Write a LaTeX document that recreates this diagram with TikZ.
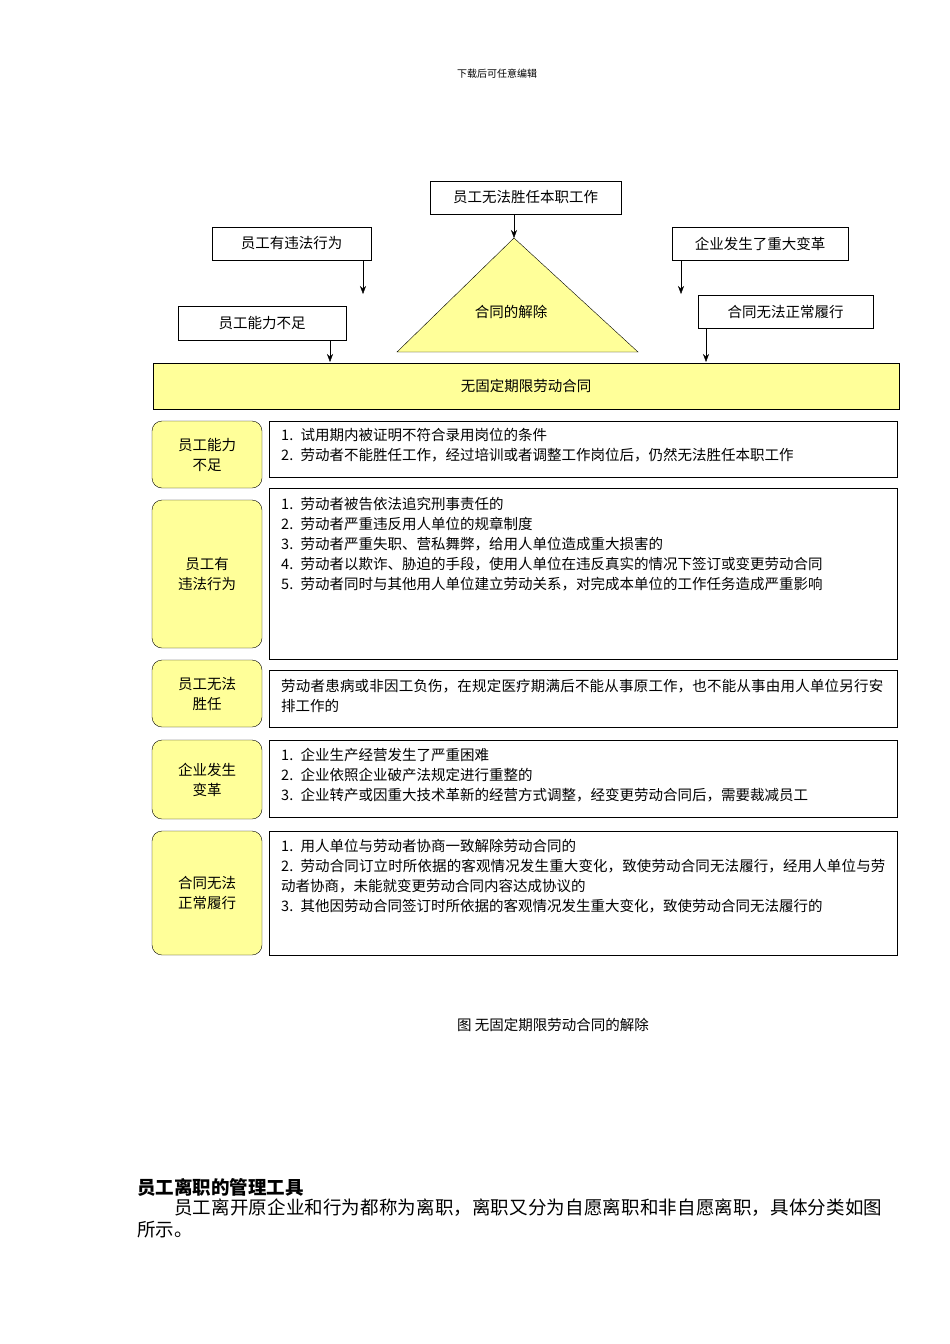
\documentclass[tikz,border=0pt]{standalone}
\usepackage{fontspec}
\setmainfont{Liberation Serif}
\newfontfamily\cjk{Noto Sans CJK SC}
\XeTeXlinebreaklocale "zh"
\XeTeXlinebreakskip=0pt plus 1pt
\usetikzlibrary{arrows.meta}
\definecolor{ylw}{HTML}{FFFF99}
\begin{document}
\begin{tikzpicture}[x=1pt,y=-1pt,
  every node/.style={font=\cjk\fontsize{14.5}{20}\selectfont},
  tbox/.style={draw,thin,inner sep=0pt},
  lbox/.style={draw,thin,fill=ylw,rounded corners=10pt,align=center,inner sep=0pt},
  rtext/.style={anchor=north west,align=left,text width=608pt,inner sep=0pt},
  arr/.style={-{Stealth[length=8pt,width=6pt]},thin}]
\useasboundingbox (0,0) rectangle (950,1344);
\node[font=\cjk\fontsize{10}{12}\selectfont] (hdr) at (497,74) {下载后可任意编辑};
% top boxes
\node[tbox,minimum width=191pt,minimum height=33pt] (b1) at (525.5,197.5) {员工无法胜任本职工作};
\node[tbox,minimum width=159pt,minimum height=33pt] (b2) at (291.5,243.5) {员工有违法行为};
\node[tbox,minimum width=176pt,minimum height=33pt] (b3) at (760,243.5) {企业发生了重大变革};
\node[tbox,minimum width=168pt,minimum height=34pt] (b4) at (262,323) {员工能力不足};
\node[tbox,minimum width=175pt,minimum height=33pt] (b5) at (785.5,311.5) {合同无法正常履行};
\draw[thin,fill=ylw] (514,238) -- (638,352) -- (397,352) -- cycle;
\node (tri) at (511,312) {合同的解除};
\coordinate (apex) at (514,238);
\coordinate (t2) at (363,294);
\coordinate (t3) at (681,294);
\coordinate (t4) at (330,362);
\coordinate (t5) at (706,362);
\draw[arr] (apex|-b1.south) -- (apex);
\draw[arr] (t2|-b2.south) -- (t2);
\draw[arr] (t3|-b3.south) -- (t3);
\draw[arr] (t4|-b4.south) -- (t4);
\draw[arr] (t5|-b5.south) -- (t5);
\node[tbox,fill=ylw,minimum width=746pt,minimum height=46pt] (main) at (526,386) {无固定期限劳动合同};
% rows
\node[lbox,minimum width=110pt,minimum height=67pt] (l1) at (207,454.5) {员工能力\\不足};
\draw[thin] (269,421) rectangle (897,477);
\node[rtext] (r1) at (281,428) {1. 试用期内被证明不符合录用岗位的条件\\2. 劳动者不能胜任工作，经过培训或者调整工作岗位后，仍然无法胜任本职工作};
\node[lbox,minimum width=110pt,minimum height=148pt] (l2) at (207,574) {员工有\\违法行为};
\draw[thin] (269,488) rectangle (897,659);
\node[rtext] (r2) at (281,497) {1. 劳动者被告依法追究刑事责任的\\2. 劳动者严重违反用人单位的规章制度\\3. 劳动者严重失职、营私舞弊，给用人单位造成重大损害的\\4. 劳动者以欺诈、胁迫的手段，使用人单位在违反真实的情况下签订或变更劳动合同\\5. 劳动者同时与其他用人单位建立劳动关系，对完成本单位的工作任务造成严重影响};
\node[lbox,minimum width=110pt,minimum height=67pt] (l3) at (207,693.5) {员工无法\\胜任};
\draw[thin] (269,670) rectangle (897,727);
\node[rtext] (r3) at (281,679) {劳动者患病或非因工负伤，在规定医疗期满后不能从事原工作，也不能从事由用人单位另行安排工作的};
\node[lbox,minimum width=110pt,minimum height=79pt] (l4) at (207,779.5) {企业发生\\变革};
\draw[thin] (269,740) rectangle (897,817);
\node[rtext] (r4) at (281,748) {1. 企业生产经营发生了严重困难\\2. 企业依照企业破产法规定进行重整的\\3. 企业转产或因重大技术革新的经营方式调整，经变更劳动合同后，需要裁减员工};
\node[lbox,minimum width=110pt,minimum height=124pt] (l5) at (207,893) {合同无法\\正常履行};
\draw[thin] (269,831) rectangle (897,955);
\node[rtext] (r5) at (281,839) {1. 用人单位与劳动者协商一致解除劳动合同的\\2. 劳动合同订立时所依据的客观情况发生重大变化，致使劳动合同无法履行，经用人单位与劳动者协商，未能就变更劳动合同内容达成协议的\\3. 其他因劳动合同签订时所依据的客观情况发生重大变化，致使劳动合同无法履行的};
\node (cap) at (553,1025) {图 无固定期限劳动合同的解除};
\node[anchor=west,inner sep=0pt,font=\cjk\bfseries\fontsize{18.5}{22}\selectfont] (ttl) at (137,1187) {员工离职的管理工具};
\node[anchor=north west,inner sep=0pt,text width=745pt,align=justify,font=\cjk\fontsize{18.5}{22}\selectfont] (para) at (137,1199) {\hspace*{37pt}员工离开原企业和行为都称为离职，离职又分为自愿离职和非自愿离职，具体分类如图所示。};
\end{tikzpicture}
\end{document}
